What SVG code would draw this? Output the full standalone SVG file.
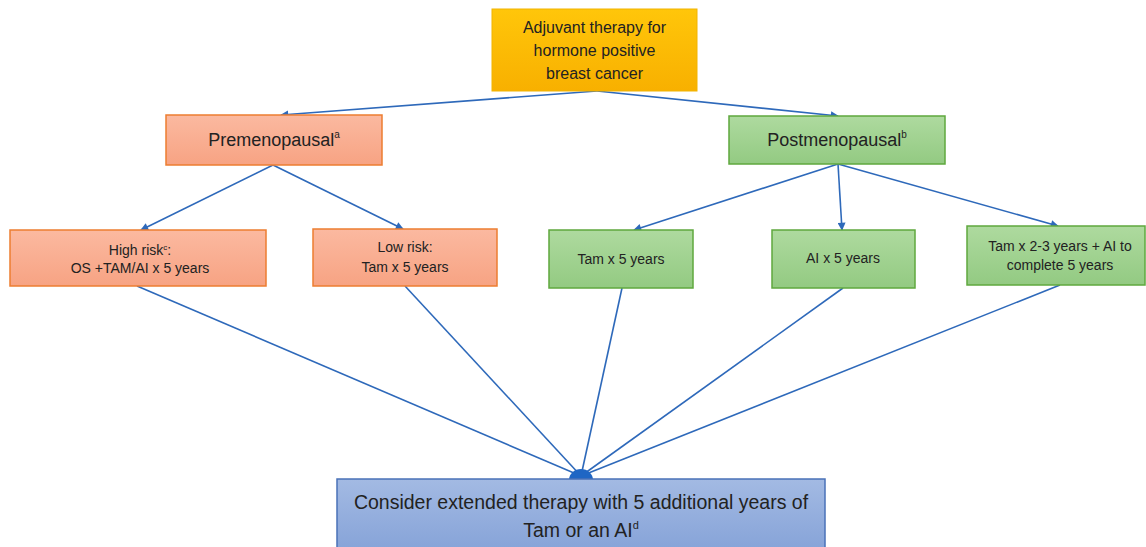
<svg xmlns="http://www.w3.org/2000/svg" width="1146" height="547" viewBox="0 0 1146 547">
<defs>
<linearGradient id="gGold" x1="0" y1="0" x2="0" y2="1"><stop offset="0" stop-color="#FFC60A"/><stop offset="1" stop-color="#F8B000"/></linearGradient>
<linearGradient id="gOr" x1="0" y1="0" x2="0" y2="1"><stop offset="0" stop-color="#FBB9A0"/><stop offset="1" stop-color="#F7A383"/></linearGradient>
<linearGradient id="gGr" x1="0" y1="0" x2="0" y2="1"><stop offset="0" stop-color="#AEDA9F"/><stop offset="1" stop-color="#93CA82"/></linearGradient>
<linearGradient id="gBl" x1="0" y1="0" x2="0" y2="1"><stop offset="0" stop-color="#A3BAE3"/><stop offset="1" stop-color="#86A3D8"/></linearGradient>
<marker id="arr" viewBox="0 0 10 10" refX="9" refY="5" markerWidth="10" markerHeight="8" markerUnits="userSpaceOnUse" orient="auto"><path d="M0,0 L10,5 L0,10 z" fill="#2E69BA"/></marker>
</defs>
<style>
.t{font-family:"Liberation Sans",Arial,sans-serif;fill:#222;text-anchor:middle}
.s{font-size:14px}
.m{font-size:16px}
.l{font-size:18px}
.xl{font-size:19.5px}
.c{stroke:#2E69BA;stroke-width:1.6;fill:none}
.or{fill:url(#gOr);stroke:#ED7D31;stroke-width:1.5}
.gr{fill:url(#gGr);stroke:#5FA83E;stroke-width:1.5}
</style>
<g id="connectors">
<line class="c" x1="597" y1="91" x2="281" y2="115" marker-end="url(#arr)"/>
<line class="c" x1="597" y1="91" x2="838" y2="116" marker-end="url(#arr)"/>
<line class="c" x1="273" y1="165" x2="141" y2="230" marker-end="url(#arr)"/>
<line class="c" x1="273" y1="165" x2="403" y2="229" marker-end="url(#arr)"/>
<line class="c" x1="838" y1="164" x2="634" y2="230" marker-end="url(#arr)"/>
<line class="c" x1="838" y1="164" x2="842" y2="230" marker-end="url(#arr)"/>
<line class="c" x1="838" y1="164" x2="1058" y2="226" marker-end="url(#arr)"/>
<line class="c" x1="137" y1="286" x2="581" y2="476"/>
<line class="c" x1="405" y1="286" x2="581" y2="476"/>
<line class="c" x1="622" y1="288" x2="581" y2="476"/>
<line class="c" x1="843" y1="288" x2="581" y2="476"/>
<line class="c" x1="1060" y1="285" x2="581" y2="476"/>
<path d="M569,480 A12,11 0 0 1 593,480 z" fill="#1F66C4"/>
</g>
<g id="top">
<rect x="492" y="9" width="205" height="82" fill="url(#gGold)" stroke="#F2B400" stroke-width="1"/>
<text class="t m" x="594.5" y="33">Adjuvant therapy for</text>
<text class="t m" x="594.5" y="56">hormone positive</text>
<text class="t m" x="594.5" y="79">breast cancer</text>
</g>
<g id="premenopausal">
<rect class="or" x="166" y="115" width="216" height="50"/>
<text class="t l" x="274" y="146">Premenopausal<tspan font-size="10" dy="-8">a</tspan></text>
</g>
<g id="postmenopausal">
<rect class="gr" x="729" y="116" width="216" height="48"/>
<text class="t l" x="837" y="146">Postmenopausal<tspan font-size="10" dy="-8">b</tspan></text>
</g>
<g id="highrisk">
<rect class="or" x="10" y="230" width="256" height="56"/>
<text class="t s" x="140" y="255">High risk<tspan font-size="8" dy="-5">c</tspan><tspan dy="5">:</tspan></text>
<text class="t s" x="140" y="273">OS +TAM/AI x 5 years</text>
</g>
<g id="lowrisk">
<rect class="or" x="313" y="229" width="184" height="57"/>
<text class="t s" x="405" y="252">Low risk:</text>
<text class="t s" x="405" y="272">Tam x 5 years</text>
</g>
<g id="tam5">
<rect class="gr" x="549" y="230" width="144" height="58"/>
<text class="t s" x="621" y="264">Tam x 5 years</text>
</g>
<g id="ai5">
<rect class="gr" x="772" y="230" width="143" height="58"/>
<text class="t s" x="843" y="263">AI x 5 years</text>
</g>
<g id="tam23">
<rect class="gr" x="967" y="226" width="178" height="59"/>
<text class="t s" x="1060" y="251">Tam x 2-3 years + AI to</text>
<text class="t s" x="1060" y="270">complete 5 years</text>
</g>
<g id="bottom">
<rect x="337" y="479" width="488" height="72" fill="url(#gBl)" stroke="#4A72B8" stroke-width="1.5"/>
<text class="t xl" x="581" y="509">Consider extended therapy with 5 additional years of</text>
<text class="t xl" x="581" y="537">Tam or an AI<tspan font-size="11" dy="-8">d</tspan></text>
</g>
</svg>
